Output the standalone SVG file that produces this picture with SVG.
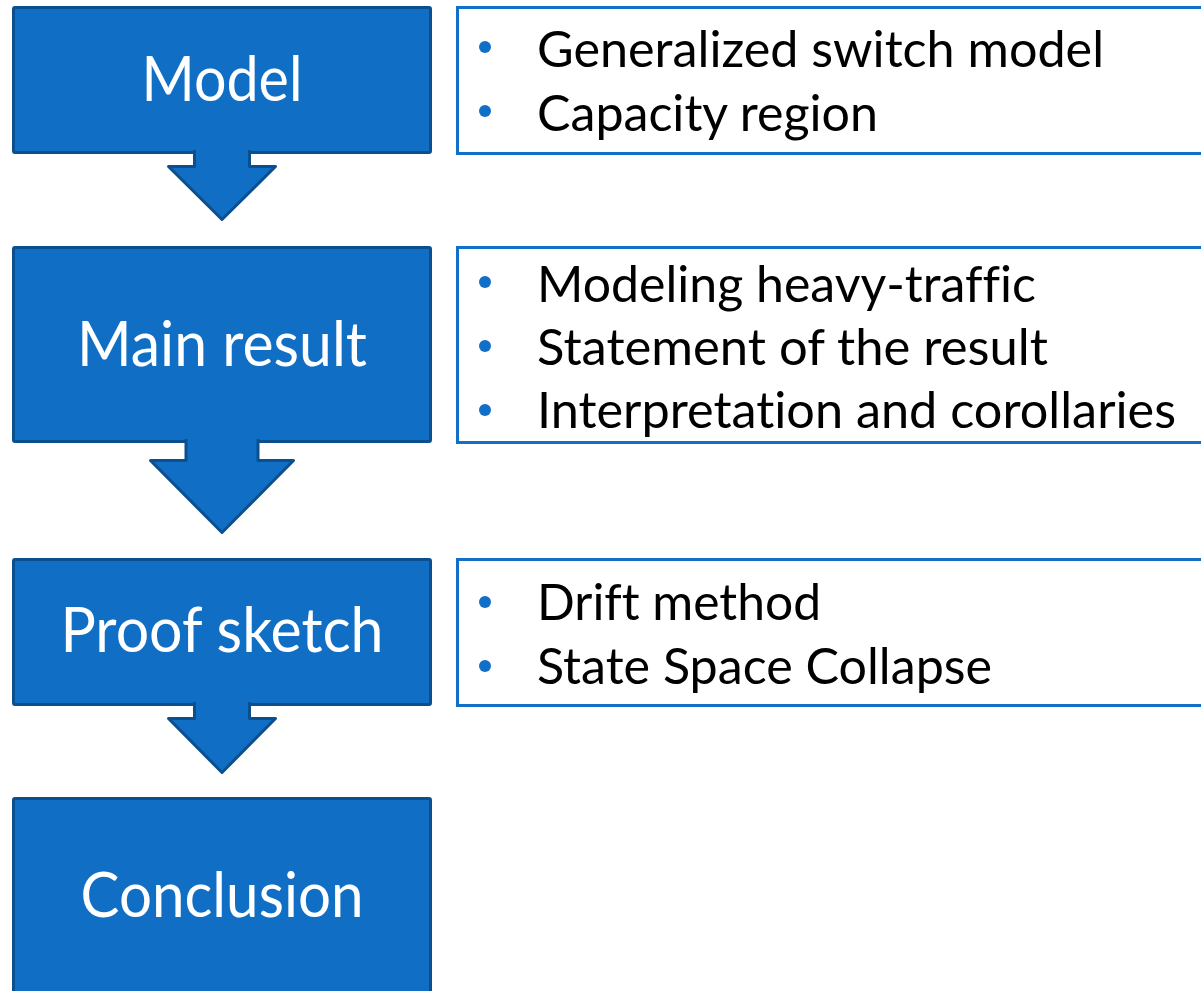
<svg xmlns="http://www.w3.org/2000/svg" width="1201" height="991" viewBox="0 0 1201 991">
  <style>
    .step { fill: #106fc5; stroke: #0b4f8f; stroke-width: 3; stroke-linejoin: round; }
    .flow { fill: #106fc5; stroke: #0b4f8f; stroke-width: 3; stroke-linejoin: round; }
    .panel { fill: #ffffff; stroke: #1170c6; stroke-width: 3; }
    .title { font-family: Lato, "Liberation Sans", sans-serif; font-size: 62px; fill: #ffffff; text-anchor: middle; font-variant-ligatures: none; }
    .item { font-family: Lato, "Liberation Sans", sans-serif; font-size: 51px; fill: #000000; font-variant-ligatures: none; }
    .dot { fill: #1170c6; }
  </style>

  <!-- detail panels on the right -->
  <g id="panel-model">
    <rect class="panel" x="457.5" y="7.5" width="760" height="146"/>
    <circle class="dot" cx="485" cy="47" r="6"/>
    <text class="item" x="537" y="67" textLength="567" lengthAdjust="spacingAndGlyphs">Generalized switch model</text>
    <circle class="dot" cx="485" cy="111" r="6"/>
    <text class="item" x="537" y="131" textLength="341" lengthAdjust="spacingAndGlyphs">Capacity region</text>
  </g>

  <g id="panel-main">
    <rect class="panel" x="457.5" y="247.5" width="760" height="195"/>
    <circle class="dot" cx="485" cy="282" r="6"/>
    <text class="item" x="537" y="302" textLength="499" lengthAdjust="spacingAndGlyphs">Modeling heavy-traffic</text>
    <circle class="dot" cx="485" cy="346" r="6"/>
    <text class="item" x="537" y="365" textLength="511" lengthAdjust="spacingAndGlyphs">Statement of the result</text>
    <circle class="dot" cx="485" cy="410" r="6"/>
    <text class="item" x="537" y="428" textLength="639" lengthAdjust="spacingAndGlyphs">Interpretation and corollaries</text>
  </g>

  <g id="panel-proof">
    <rect class="panel" x="457.5" y="559.5" width="760" height="146"/>
    <circle class="dot" cx="485" cy="602" r="6"/>
    <text class="item" x="537" y="620" textLength="284" lengthAdjust="spacingAndGlyphs">Drift method</text>
    <circle class="dot" cx="485" cy="666" r="6"/>
    <text class="item" x="537" y="684" textLength="455" lengthAdjust="spacingAndGlyphs">State Space Collapse</text>
  </g>

  <!-- step boxes -->
  <g id="step-model">
    <rect class="step" x="13.5" y="7.5" width="417" height="145" rx="1.5"/>
    <text class="title" x="222" y="101" textLength="161" lengthAdjust="spacingAndGlyphs">Model</text>
  </g>

  <g id="step-main">
    <rect class="step" x="13.5" y="247.5" width="417" height="194" rx="1.5"/>
    <text class="title" x="222" y="366" textLength="290" lengthAdjust="spacingAndGlyphs">Main result</text>
  </g>

  <g id="step-proof">
    <rect class="step" x="13.5" y="559.5" width="417" height="145" rx="1.5"/>
    <text class="title" x="222" y="652" textLength="323" lengthAdjust="spacingAndGlyphs">Proof sketch</text>
  </g>

  <g id="step-conclusion">
    <rect class="step" x="13.5" y="798.5" width="417" height="220" rx="1.5"/>
    <text class="title" x="222" y="917" textLength="283" lengthAdjust="spacingAndGlyphs">Conclusion</text>
  </g>

  <!-- block arrows between steps (open at the top so they merge into the box above) -->
  <g id="connectors">
    <path class="flow" d="M194.5 150 V166.5 H168.5 L222 219.5 L275.5 166.5 H249.5 V150"/>
    <path class="flow" d="M186 439 V460.5 H150.5 L222 532.5 L293.5 460.5 H258 V439"/>
    <path class="flow" d="M194.5 702 V718.5 H168.5 L222 772.5 L275.5 718.5 H249.5 V702"/>
  </g>
</svg>
